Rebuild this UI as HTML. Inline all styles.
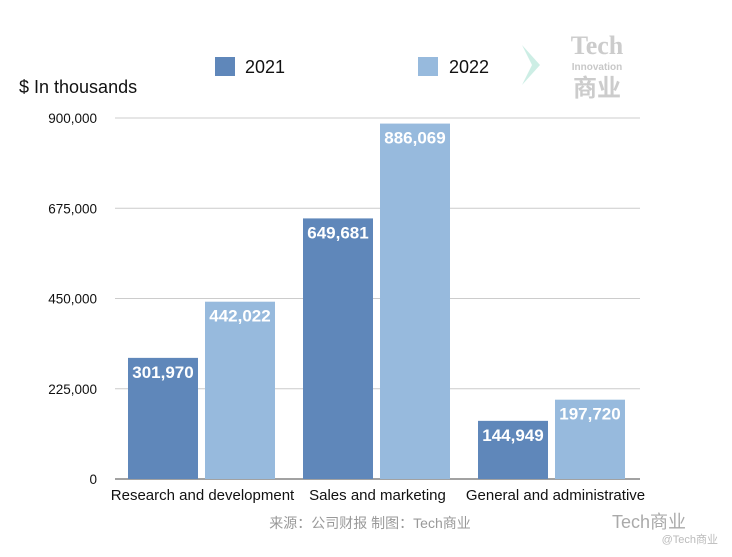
<!DOCTYPE html>
<html><head><meta charset="utf-8"><style>
body{margin:0;background:#fff;width:732px;height:552px;overflow:hidden;font-family:"Liberation Sans","Noto Sans CJK SC",sans-serif}
</style></head><body>
<svg width="732" height="552" xmlns="http://www.w3.org/2000/svg" font-family="Liberation Sans, Noto Sans CJK SC, sans-serif">
<g>
<path d="M522 45 L540 65 L522 85 L532 65 Z" fill="#cdeee5"/>
<text x="597" y="54" font-family="Liberation Serif, serif" font-weight="bold" font-size="26" fill="#ccc" text-anchor="middle">Tech</text>
<text x="597" y="70" font-size="10" font-weight="bold" fill="#c8c8c8" text-anchor="middle">Innovation</text>
<text x="597" y="96" font-size="24" font-weight="bold" fill="#ccc" text-anchor="middle">商业</text>
</g>
<g>
<rect x="215" y="57" width="20" height="19" fill="#5f87ba"/>
<text x="245" y="73" font-size="18" fill="#111">2021</text>
<rect x="418" y="57" width="20" height="19" fill="#97badd"/>
<text x="449" y="73" font-size="18" fill="#111">2022</text>
</g>
<text x="19" y="93" font-size="18" fill="#111">$ In thousands</text>
<g id="grid"></g><g id="bars"></g><g id="labels"></g>
<text x="370" y="528" font-size="14" fill="#999" text-anchor="middle">来源：公司财报 制图：Tech商业</text>
<text x="612" y="528" font-size="18" fill="#aaa">Tech商业</text>
<text x="718" y="543" font-size="11" fill="#bbb" text-anchor="end">@Tech商业</text>
</svg>
<script>
const categories=["Research and development","Sales and marketing","General and administrative"];
const values2021=[301970,649681,144949];
const values2022=[442022,886069,197720];
const ticks=[0,225000,450000,675000,900000];
const ns="http://www.w3.org/2000/svg";
const x0=115,x1=640,yb=479,yt=118,ymax=900000;
const y=v=>yb-(v/ymax)*(yb-yt);
const gw=(x1-x0)/categories.length;
function mk(tag,attrs,parent,text){const e=document.createElementNS(ns,tag);for(const k in attrs)e.setAttribute(k,attrs[k]);if(text!==undefined)e.textContent=text;document.getElementById(parent).appendChild(e);return e;}
ticks.forEach(t=>{
 const l=mk('line',{x1:x0,x2:x1,y1:y(t),y2:y(t),stroke:t===0?'#444':'#ccc','stroke-width':1},'grid');
 
 
 const tx=mk('text',{x:97,y:y(t)+5,'font-size':13.5,'text-anchor':'end',fill:'#111'},'grid',t.toLocaleString('en-US'));
 
 
});
categories.forEach((c,i)=>{
 const gx=x0+gw*i;
 [[values2021[i],'#5f87ba',13],[values2022[i],'#97badd',90]].forEach(([v,col,off],j)=>{
  const b=mk('rect',{x:gx+off,y:y(v),width:70,height:yb-y(v),fill:col},'bars');
  
  
  const t=mk('text',{x:gx+off+35,y:y(v)+20,'font-size':17,'font-weight':'bold',fill:'#fff','text-anchor':'middle'},'labels',v.toLocaleString('en-US'));
  
  
 });
 const cl=mk('text',{x:gx+gw/2+(i===2?3:0),y:500,'font-size':15,fill:'#111','text-anchor':'middle'},'labels',c);
 
 
});
</script>
</body></html>
